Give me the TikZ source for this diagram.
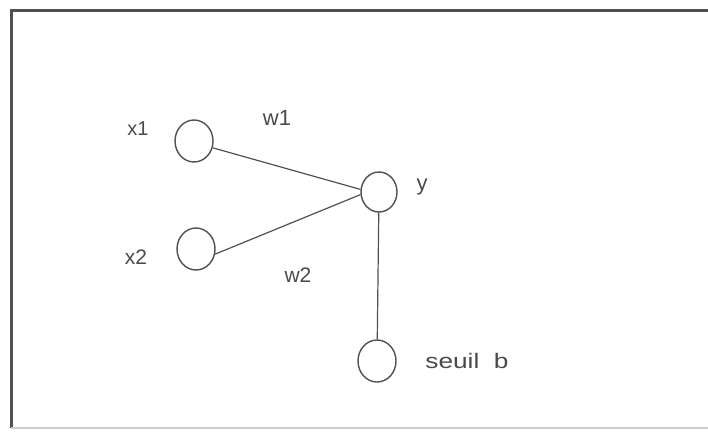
\documentclass[tikz,border=0pt]{standalone}
\usepackage{fontspec}
\setmainfont{Liberation Sans}
\newfontfamily\widefont[FakeStretch=1.25]{Liberation Sans}
\usetikzlibrary{shapes.geometric, positioning}
\definecolor{ink}{HTML}{505050}
\definecolor{txt}{HTML}{4A4A4A}
\tikzset{
    neuron/.style={ellipse, draw=ink, line width=1.4pt, inner sep=0pt,
        minimum width=38pt, minimum height=42pt},
    lbl/.style={text=txt, anchor=base, inner sep=0pt},
    link/.style={draw=ink, line width=1.2pt}
}

\begin{document}
\begin{tikzpicture}[x=1pt, y=-1pt]
    \useasboundingbox (0,0) rectangle (708,432);
    % frame
    \draw[ink, line width=3pt] (708,10) -- (11,10) -- (11,428);
    \draw[black!20, line width=1.5pt] (11,428) -- (708,428);

    \node[neuron] (x1) at (194,141) {};
    \node[neuron] (x2) at (196,249) {};
    \node[neuron, minimum width=36pt, minimum height=40pt] (y) at (379,192) {};
    \node[neuron] (sb) at (377,361) {};

    \node[lbl, font=\fontsize{20}{22}\selectfont] (lx1) at (138,135) {x1};
    \node[lbl, font=\fontsize{21}{23}\selectfont] (lx2) at (136,264) {x2};
    \node[lbl, font=\fontsize{22}{24}\selectfont] (lw1) at (277,125) {w1};
    \node[lbl, font=\fontsize{21}{23}\selectfont] (lw2) at (298,282) {w2};
    \node[lbl, font=\fontsize{22}{24}\selectfont] (ly) at (422,190) {y};
    \node[lbl, font=\widefont\fontsize{21}{23}\selectfont] (lsb) at (467,368) {seuil~ b};

    \draw[link]
        (x1.-20) -- (y.172)
        (x2.-15) -- (y.188)
        (y) -- (sb)
        ;
\end{tikzpicture}
\end{document}
